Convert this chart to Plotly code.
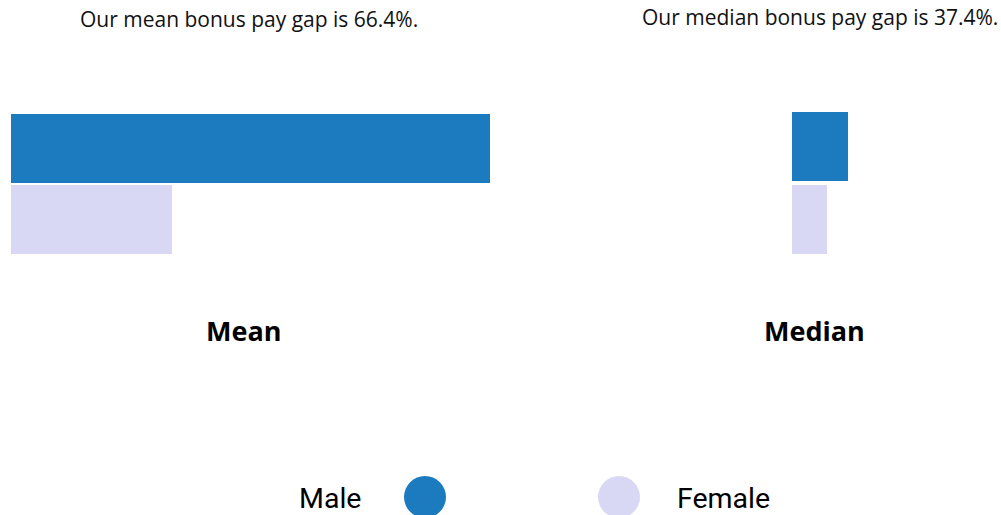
import plotly.graph_objects as go

categories = ["Male", "Female"]
mean_values = [100.0, 33.6]     # mean bonus, male indexed to 100 (gap 66.4%)
median_values = [100.0, 62.6]   # median bonus, male indexed to 100 (gap 37.4%)
colors = ["#1c7abe", "#d8d8f4"]
panel_labels = ["Mean", "Median"]
titles = ["Our mean bonus pay gap is 66.4%.", "Our median bonus pay gap is 37.4%."]

W, H = 1001, 515
FONT = "Open Sans, sans-serif"
FONT2 = "Roboto, sans-serif"

def px(x):
    return x / W

def py(y):
    return 1 - y / H

fig = go.Figure()

pos = [0, 1]
fig.add_trace(go.Bar(x=mean_values, y=pos, orientation="h", marker=dict(color=colors, line=dict(width=0)),
                     width=69/71, xaxis="x", yaxis="y", showlegend=False, hoverinfo="x"))
fig.add_trace(go.Bar(x=median_values, y=pos, orientation="h", marker=dict(color=colors, line=dict(width=0)),
                     width=69/73, xaxis="x2", yaxis="y2", showlegend=False, hoverinfo="x"))

axis_common = dict(showgrid=False, zeroline=False, showticklabels=False, showline=False, ticks="")
fig.update_layout(
    width=W, height=H,
    margin=dict(l=0, r=0, t=0, b=0),
    paper_bgcolor="white", plot_bgcolor="rgba(0,0,0,0)",
    xaxis=dict(domain=[px(11), px(490)], range=[0, 100], **axis_common),
    yaxis=dict(domain=[py(255), py(113)], range=[1.5, -0.5], **axis_common),
    xaxis2=dict(domain=[px(792), px(848)], range=[0, 100], anchor="y2", **axis_common),
    yaxis2=dict(domain=[py(256), py(110)], range=[1.5, -0.5], anchor="x2", **axis_common),
    font=dict(family=FONT, color="#111"),
)

anns = [
    dict(text=titles[0], x=px(249), y=py(19)),
    dict(text=titles[1], x=px(820), y=py(17)),
]
for a in anns:
    fig.add_annotation(xref="paper", yref="paper", x=a["x"], y=a["y"], text=a["text"], showarrow=False,
                       xanchor="center", yanchor="middle", font=dict(size=21, family=FONT, color="#111"))

for lbl, xc in zip(panel_labels, [243, 814]):
    fig.add_annotation(xref="paper", yref="paper", x=px(xc), y=py(330), text="<b>%s</b>" % lbl, showarrow=False,
                       xanchor="center", yanchor="middle", font=dict(size=27, family=FONT, color="#000"))

# legend
legend_items = [("Male", colors[0], 425, 330), ("Female", colors[1], 619, 723)]
r = 21
for name, col, cx, tx in legend_items:
    fig.add_shape(type="circle", xref="paper", yref="paper",
                  x0=px(cx - r), x1=px(cx + r), y0=py(497 + r), y1=py(497 - r),
                  fillcolor=col, line=dict(width=0))
    fig.add_annotation(xref="paper", yref="paper", x=px(tx), y=py(498), text=name, showarrow=False,
                       xanchor="center", yanchor="middle", font=dict(size=28.5, family=FONT2, color="#000"))

fig.write_html("out.html")
